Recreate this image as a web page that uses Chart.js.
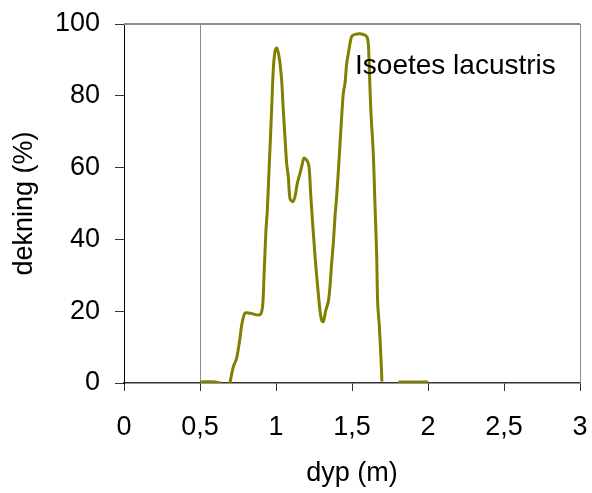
<!DOCTYPE html>
<html>
<head>
<meta charset="utf-8">
<script src="https://cdn.jsdelivr.net/npm/chart.js@4.4.1/dist/chart.umd.min.js"></script>
<style>
  html, body { margin: 0; padding: 0; background: #ffffff; }
  #wrap { width: 592px; height: 493px; }
</style>
</head>
<body>
<div id="wrap"><canvas id="c" width="592" height="493"></canvas></div>
<script>
// Depth (m) and coverage (%); null marks a break in the line
const depth = [0.50, 0.60, 0.635, 0.665, 0.697, 0.719, 0.741, 0.763, 0.774, 0.796, 0.83, 0.895, 0.912, 0.921, 0.934, 0.943, 0.956, 0.961, 0.972, 0.982, 0.993, 1.005, 1.022, 1.037, 1.048, 1.059, 1.070, 1.081, 1.092, 1.110, 1.125, 1.140, 1.158, 1.169, 1.184, 1.202, 1.217, 1.228, 1.241, 1.257, 1.268, 1.278, 1.289, 1.300, 1.311, 1.328, 1.344, 1.355, 1.366, 1.377, 1.388, 1.399, 1.416, 1.432, 1.443, 1.454, 1.465, 1.476, 1.487, 1.498, 1.520, 1.564, 1.597, 1.607, 1.612, 1.618, 1.625, 1.640, 1.651, 1.662, 1.669, 1.680, 1.689, 1.697, 1.75, 1.805, 2.0];
const cover = [0.3, 0.3, 0, null, 0, 4.5, 6.9, 12.5, 16, 19.5, 19.4, 19, 21.5, 29.6, 42.6, 48.2, 61.2, 65.8, 77, 87.2, 92.3, 93.3, 90.4, 84.4, 76, 68.6, 61.2, 57.5, 51.4, 50.5, 51.9, 55.6, 58.4, 60.3, 62.6, 62.1, 60.3, 52.8, 44.5, 35.2, 29.6, 25, 20.3, 17.5, 17.1, 20.3, 22.6, 26.8, 33.3, 38.9, 46.3, 51.9, 63, 74.2, 80.7, 83.5, 89, 91.8, 94.6, 96.5, 97.1, 97.2, 96.5, 94.6, 90, 82.5, 75.1, 64, 50, 36.1, 22.2, 15.7, 8.3, 0.4, null, 0.3, 0.3];
const seriesName = 'Isoetes lacustris';
const xTitle = 'dyp (m)';
const yTitle = 'dekning (%)';
const xMarker = 0.5;

const points = depth.map((d, i) => ({ x: d, y: cover[i] }));
const FONT = 'Liberation Sans, Arial, sans-serif';

const framePlugin = {
  id: 'frame',
  beforeDatasetsDraw(chart) {
    const { ctx, chartArea: a } = chart;
    ctx.save();
    ctx.strokeStyle = '#8c8c8c';
    ctx.lineWidth = 2;
    ctx.beginPath();
    ctx.moveTo(a.left, a.top);
    ctx.lineTo(a.right, a.top);
    ctx.stroke();
    ctx.lineWidth = 1;
    ctx.beginPath();
    ctx.moveTo(a.right + 0.5, a.top);
    ctx.lineTo(a.right + 0.5, a.bottom);
    ctx.stroke();
    ctx.restore();
  },
  afterDatasetsDraw(chart) {
    const { ctx, scales } = chart;
    ctx.save();
    ctx.fillStyle = '#000';
    ctx.font = '28px ' + FONT;
    ctx.textBaseline = 'alphabetic';
    ctx.textAlign = 'left';
    ctx.fillText(seriesName, scales.x.getPixelForValue(1.52), scales.y.getPixelForValue(86));
    ctx.restore();
  }
};

new Chart(document.getElementById('c'), {
  type: 'line',
  data: {
    datasets: [{
      label: seriesName,
      data: points,
      borderColor: '#808000',
      borderWidth: 3,
      pointRadius: 0,
      tension: 0.3,
      spanGaps: false,
      fill: false
    }]
  },
  options: {
    responsive: false,
    animation: false,
    layout: { padding: { top: 24, right: 12, left: 0, bottom: 0 } },
    plugins: { legend: { display: false }, tooltip: { enabled: false } },
    scales: {
      x: {
        type: 'linear',
        min: 0, max: 3,
        afterFit(s) { s.height = 110; s.paddingLeft = 0; s.paddingRight = 0; },
        ticks: {
          stepSize: 0.5,
          padding: 20,
          color: '#000',
          font: { family: FONT, size: 27 },
          callback: v => String(v).replace('.', ',')
        },
        grid: {
          drawOnChartArea: true,
          drawTicks: true,
          tickLength: 8,
          color: c => (c.tick && c.tick.value === xMarker) ? '#8c8c8c' : 'rgba(0,0,0,0)',
          tickColor: '#333',
          lineWidth: 1
        },
        border: { display: true, color: '#333', width: 1.5 },
        title: {
          display: true, text: xTitle, color: '#000',
          font: { family: FONT, size: 27, lineHeight: 1.2 },
          padding: { top: 0, bottom: 3 }
        }
      },
      y: {
        min: 0, max: 100,
        afterFit(s) { s.width = 124; s.paddingTop = 0; s.paddingBottom = 0; },
        ticks: {
          stepSize: 20,
          padding: 15,
          color: '#000',
          font: { family: FONT, size: 27 }
        },
        grid: {
          drawOnChartArea: false,
          drawTicks: true,
          tickLength: 9,
          tickColor: '#333'
        },
        border: { display: true, color: '#000', width: 1 },
        title: {
          display: true, text: yTitle, color: '#000',
          font: { family: FONT, size: 27, lineHeight: 1.2 },
          padding: { top: 8, bottom: 0 }
        }
      }
    }
  },
  plugins: [framePlugin]
});
</script>
</body>
</html>
